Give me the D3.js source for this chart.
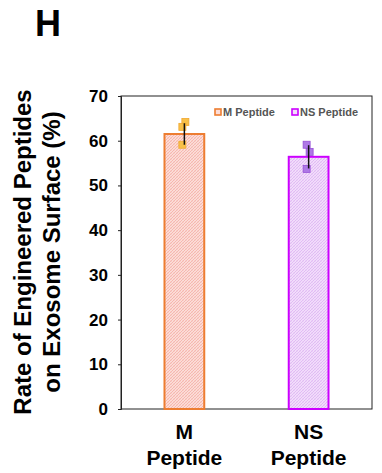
<!DOCTYPE html>
<html><head><meta charset="utf-8">
<script src="https://cdn.jsdelivr.net/npm/d3@7"></script>
<style>body{margin:0;background:#fff;}svg{display:block;font-family:"Liberation Sans",Arial,sans-serif;}</style>
</head><body>
<svg id="c" width="382" height="473"></svg>
<script>
const categories = ["M Peptide", "NS Peptide"];
const catLines = [["M", "Peptide"], ["NS", "Peptide"]];
const means = [61.5, 56.4];
const sds = [2.4, 2.6];
const points = [[64.2, 63.1, 59.1], [59.1, 57.5, 53.7]];
const jitter = [[1, -2, -2], [-2, 1, -2]];
const yTicks = [0, 10, 20, 30, 40, 50, 60, 70];
const strokeCols = ["#ED7D31", "#CC00FF"];
const hatchBg = ["#FCDDD8", "#F2DDFB"];
const hatchLine = ["#F5AFA6", "#DDB4F2"];
const ptFill = ["#F8C048", "#AE78E6"];
const ptStroke = ["#F0A830", "#9650D6"];

const svg = d3.select("#c");
const L = 121, R = 372, T = 96, B = 409;
const y = d3.scaleLinear().domain([0, 70]).range([B, T]);
const x = d3.scaleBand().domain(categories).range([L, R]).paddingInner(0.68).paddingOuter(0.35);

const defs = svg.append("defs");
categories.forEach((c, i) => {
  const p = defs.append("pattern").attr("id", "h" + i).attr("patternUnits", "userSpaceOnUse")
    .attr("width", 3).attr("height", 3);
  p.append("rect").attr("width", 3).attr("height", 3).attr("fill", hatchBg[i]);
  p.append("path").attr("d", "M-1,1 l2,-2 M0,3 l3,-3 M2,4 l2,-2").attr("stroke", hatchLine[i]).attr("stroke-width", 0.8);
  p.append("path").attr("d", "M-1,2 l2,2 M0,0 l3,3 M2,-1 l2,2").attr("stroke", hatchLine[i]).attr("stroke-width", 0.4).attr("opacity", 0.6);
});

// title
svg.append("text").attr("x", 35).attr("y", 36).attr("font-size", 36).attr("font-weight", "bold").text("H");

// frame
svg.append("rect").attr("x", L).attr("y", T).attr("width", R - L).attr("height", B - T)
  .attr("fill", "none").attr("stroke", "#222").attr("stroke-width", 1);

// y axis
const ya = svg.append("g").attr("transform", `translate(${L},0)`)
  .call(d3.axisLeft(y).tickValues(yTicks).tickSize(3).tickPadding(10));
ya.select(".domain").attr("stroke", "#222");
ya.selectAll(".tick line").attr("stroke", "#222");
ya.selectAll("text").attr("font-size", 17).attr("font-weight", "bold").attr("fill", "#000")
  .attr("font-family", "'Liberation Sans',Arial,sans-serif");

// bars
categories.forEach((c, i) => {
  svg.append("rect").attr("x", x(c)).attr("y", y(means[i])).attr("width", x.bandwidth())
    .attr("height", B - y(means[i])).attr("fill", `url(#h${i})`).attr("stroke", strokeCols[i]).attr("stroke-width", 2);
});

// points
categories.forEach((c, i) => {
  const cx = x(c) + x.bandwidth() / 2;
  points[i].forEach((v, j) => {
    svg.append("rect").attr("x", cx + jitter[i][j] - 3.5).attr("y", y(v) - 3.5).attr("width", 7).attr("height", 7)
      .attr("fill", ptFill[i]).attr("stroke", ptStroke[i]).attr("stroke-width", 0.8);
  });
  svg.append("line").attr("x1", cx).attr("x2", cx).attr("y1", y(means[i] + sds[i])).attr("y2", y(means[i] - sds[i]))
    .attr("stroke", "#111").attr("stroke-width", 1.5);
});

// legend
const leg = [[215, 112], [292, 112]];
categories.forEach((c, i) => {
  svg.append("rect").attr("x", leg[i][0]).attr("y", leg[i][1] - 3).attr("width", 6).attr("height", 6)
    .attr("fill", hatchBg[i]).attr("stroke", strokeCols[i]).attr("stroke-width", 1.6);
  svg.append("text").attr("x", leg[i][0] + 8).attr("y", leg[i][1] + 4).attr("font-size", 11).attr("font-weight", "bold")
    .attr("fill", "#555").text(c);
});

// x labels
categories.forEach((c, i) => {
  const cx = x(c) + x.bandwidth() / 2;
  catLines[i].forEach((t, k) => {
    svg.append("text").attr("x", cx).attr("y", 439 + k * 26).attr("text-anchor", "middle")
      .attr("font-size", 21).attr("font-weight", "bold").text(t);
  });
});

// y title
const yt = svg.append("text").attr("transform", "translate(0,252) rotate(-90)").attr("text-anchor", "middle")
  .attr("font-size", 24).attr("font-weight", "bold");
yt.append("tspan").attr("x", 0).attr("y", 31).text("Rate of Engineered Peptides");
yt.append("tspan").attr("x", 0).attr("y", 60).text("on Exosome Surface (%)");
</script>
</body></html>
